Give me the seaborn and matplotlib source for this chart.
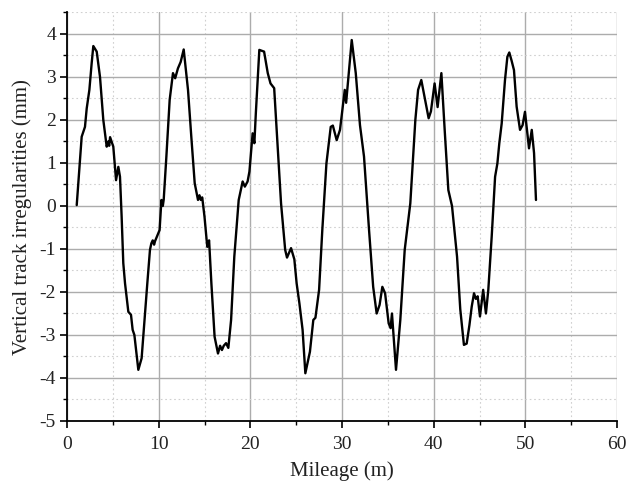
import matplotlib
matplotlib.use("Agg")
import matplotlib.pyplot as plt
import seaborn as sns
import pandas as pd
from matplotlib.ticker import MultipleLocator

mileage = [1.06, 1.6, 1.96, 2.15, 2.44, 2.69, 2.87, 3.24, 3.6, 3.96, 4.33, 4.5, 4.6, 4.7,
           5.05, 5.35, 5.6, 5.78, 5.96, 6.14, 6.33, 6.69, 6.98, 7.16, 7.35, 7.78, 8.14,
           8.51, 8.76, 9.05, 9.2, 9.35, 9.5, 9.6, 10.1, 10.3, 10.45, 10.55, 10.84, 11.2,
           11.56, 11.8, 12.1, 12.4, 12.73, 13.2, 13.56, 13.93, 14.29, 14.45, 14.6, 14.75,
           15.0, 15.3, 15.5, 15.75, 16.1, 16.47, 16.7, 16.9, 17.1, 17.35, 17.6, 17.9,
           18.25, 18.73, 19.16, 19.4, 19.7, 19.9, 20.25, 20.44, 20.6, 20.98, 21.5, 21.9,
           22.2, 22.6, 22.98, 23.35, 23.8, 24.0, 24.44, 24.8, 25.05, 25.35, 25.7, 26.0,
           26.5, 26.87, 27.1, 27.5, 27.85, 28.3, 28.77, 29.0, 29.42, 29.78, 30.3, 30.45,
           31.06, 31.5, 31.96, 32.4, 32.95, 33.4, 33.78, 34.1, 34.4, 34.7, 35.09, 35.3,
           35.45, 35.89, 36.36, 36.84, 37.45, 38.0, 38.3, 38.65, 39.0, 39.45, 39.7, 40.1,
           40.43, 40.84, 41.2, 41.6, 42.0, 42.55, 42.9, 43.3, 43.6, 43.9, 44.15, 44.4,
           44.6, 44.8, 45.05, 45.4, 45.7, 45.96, 46.33, 46.7, 46.95, 47.16, 47.42, 47.78,
           48.04, 48.25, 48.5, 48.76, 49.05, 49.42, 49.7, 49.96, 50.1, 50.4, 50.7, 50.95,
           51.16]
irregularity = [0.02, 1.61, 1.84, 2.27, 2.7, 3.32, 3.72, 3.59, 3.0, 2.0, 1.38, 1.5, 1.4, 1.6,
                1.38, 0.6, 0.91, 0.68, -0.25, -1.33, -1.8, -2.46, -2.53, -2.88, -3.0, -3.81,
                -3.54, -2.5, -1.8, -1.02, -0.87, -0.8, -0.9, -0.82, -0.56, 0.14, 0.0, 0.15,
                1.15, 2.47, 3.09, 2.97, 3.2, 3.35, 3.64, 2.7, 1.61, 0.53, 0.14, 0.25, 0.14,
                0.2, -0.25, -0.95, -0.8, -1.8, -3.04, -3.43, -3.25, -3.35, -3.25, -3.19, -3.3,
                -2.65, -1.18, 0.14, 0.57, 0.45, 0.57, 0.8, 1.69, 1.46, 2.16, 3.63, 3.59, 3.09,
                2.85, 2.74, 1.38, 0.06, -1.02, -1.2, -0.98, -1.24, -1.8, -2.26, -2.88, -3.89,
                -3.39, -2.65, -2.6, -1.95, -0.56, 0.99, 1.84, 1.87, 1.53, 1.77, 2.7, 2.4,
                3.86, 3.09, 1.88, 1.15, -0.56, -1.88, -2.5, -2.3, -1.88, -2.03, -2.73, -2.84,
                -2.5, -3.81, -2.65, -1.02, 0.06, 2.0, 2.7, 2.93, 2.54, 2.04, 2.2, 2.85,
                2.3, 3.09, 1.77, 0.37, 0.0, -1.18, -2.4, -3.23, -3.2, -2.77, -2.34, -2.03,
                -2.16, -2.1, -2.57, -1.95, -2.5, -1.95, -0.71, 0.68, 0.99, 1.46, 1.92, 2.93,
                3.47, 3.57, 3.38, 3.16, 2.31, 1.77, 1.88, 2.19, 1.92, 1.34, 1.77, 1.23,
                0.14]

x_ticks = [0, 10, 20, 30, 40, 50, 60]
y_ticks = [-5, -4, -3, -2, -1, 0, 1, 2, 3, 4]

df = pd.DataFrame({"Mileage": mileage, "Irr": irregularity})

sns.set_theme(style="white")
plt.rcParams["font.family"] = ["Liberation Serif", "DejaVu Serif"]

fig = plt.figure(figsize=(6.28, 4.84), dpi=100)
ax = fig.add_axes([0.1067, 0.1302, 0.8758, 0.8440])

sns.lineplot(data=df, x="Mileage", y="Irr", sort=False, estimator=None,
             color="black", linewidth=1.7, ax=ax)

ax.set_xlim(0, 60)
ax.set_ylim(-5, 4.5)
ax.set_xticks(x_ticks)
ax.set_yticks(y_ticks)
ax.set_xticklabels([str(v) for v in x_ticks])
ax.set_yticklabels([str(v) for v in y_ticks])
ax.xaxis.set_minor_locator(MultipleLocator(5))
ax.yaxis.set_minor_locator(MultipleLocator(0.5))

ax.grid(which="major", color="#acacac", linewidth=1.0, linestyle="-")
ax.grid(which="minor", color="#d0d0d0", linewidth=0.8, linestyle=(0, (1.5, 2.5)))
ax.set_axisbelow(True)

for s in ["top", "right"]:
    ax.spines[s].set_visible(False)
for s in ["left", "bottom"]:
    ax.spines[s].set_color("black")
    ax.spines[s].set_linewidth(1.3)

ax.tick_params(axis="x", which="major", pad=6)
ax.tick_params(which="major", direction="out", length=5, width=1.2, color="black",
               labelsize=14, labelcolor="#222222", bottom=True, left=True)
ax.tick_params(axis="y", which="major", pad=3)
ax.tick_params(which="minor", direction="out", length=3, width=1.0, color="black",
               bottom=True, left=True)

ax.set_xlabel("Mileage (m)", fontsize=15, labelpad=6, color="#222222")
ax.set_ylabel("Vertical track irregularities (mm)", fontsize=15, labelpad=5, color="#222222")

fig.savefig("out.png", dpi=100)
